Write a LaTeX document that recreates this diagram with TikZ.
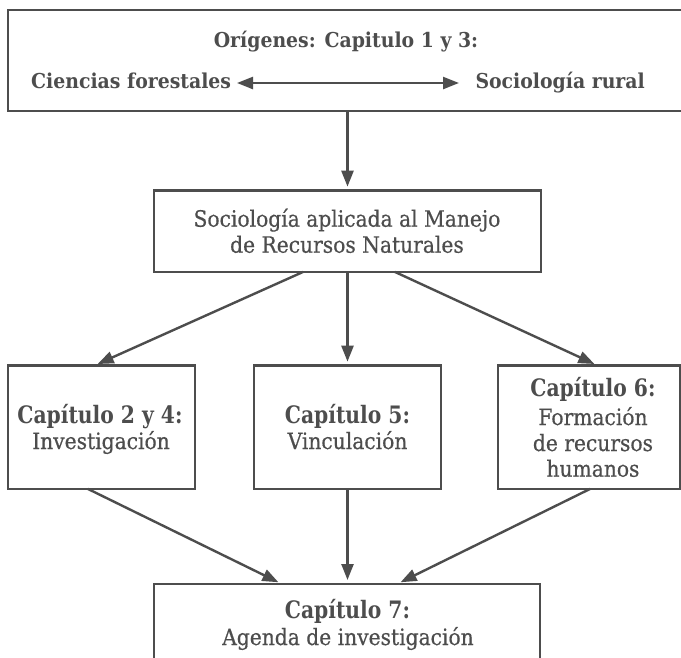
\documentclass[tikz,border=0pt]{standalone}
\usepackage{fontspec}
\usetikzlibrary{arrows.meta,calc}
\newfontfamily\hfont{DejaVu Serif}[FakeStretch=0.845]
\newfontfamily\tfont{DejaVu Serif}[FakeStretch=0.92]
\newfontfamily\rfont{DejaVu Serif}[FakeStretch=0.9,FakeBold=0.5]
\definecolor{ink}{HTML}{4D4D4D}
\begin{document}
\begin{tikzpicture}[x=1pt,y=-1pt,
  box/.style={draw=ink, line width=2.6pt, rectangle, inner sep=0pt, outer sep=0pt},
  conn/.style={draw=ink, line width=2.4pt, -{Triangle[length=16pt,width=12pt]}, shorten >=4pt},
  hd/.style={text=ink, inner sep=0pt, anchor=base, font=\hfont\bfseries\fontsize{24}{26}\selectfont},
  rg/.style={text=ink, inner sep=0pt, anchor=base, font=\rfont\fontsize{22.5}{26}\selectfont},
  tp/.style={text=ink, inner sep=0pt, font=\tfont\bfseries\fontsize{20.5}{21}\selectfont},
]
\useasboundingbox (0,0) rectangle (681,657);
\fill[white] (0,0) rectangle (681,657);
% boxes
\node[box, minimum width=692pt, minimum height=101pt] (top) at (354,60.5) {};
\node[box, minimum width=387pt, minimum height=81.3pt] (mid) at (347.5,231.3) {};
\node[box, minimum width=187pt, minimum height=123.3pt] (inv) at (101.5,427.3) {};
\node[box, minimum width=187pt, minimum height=123.3pt] (vin) at (347.5,427.3) {};
\node[box, minimum width=182pt, minimum height=123.3pt] (frm) at (589,427.3) {};
\node[box, minimum width=386pt, minimum height=140pt] (age) at (347,654) {};
% top texts
\node[tp, anchor=base] (t0) at (346,47) {Orígenes: Capitulo 1 y 3:};
\node[tp, anchor=base west] (t1) at (31,88.3) {Ciencias forestales};
\node[tp, anchor=base east] (t2) at (645,88.3) {Sociología rural};
\coordinate (al) at (237,83);
\coordinate (ar) at (459,83);
\draw[conn, shorten >=0pt, {Triangle[length=16pt,width=12pt]}-{Triangle[length=16pt,width=12pt]}] (al) -- (ar);
% middle
\node[rg] (m1) at (347,226.7) {Sociología aplicada al Manejo};
\node[rg] (m2) at (347,252.7) {de Recursos Naturales};
% three boxes
\node[hd] (i1) at (100,423.3) {Capítulo 2 y 4:};
\node[rg] (i2) at (101,449) {Investigación};
\node[hd] (v1) at (347.5,423.3) {Capítulo 5:};
\node[rg] (v2) at (347.5,449) {Vinculación};
\node[hd] (f1) at (593,396.7) {Capítulo 6:};
\node[rg] (f2) at (593,425) {Formación};
\node[rg] (f3) at (593,451) {de recursos};
\node[rg] (f4) at (593,476.7) {humanos};
% bottom
\node[hd] (a1) at (347.5,618.3) {Capítulo 7:};
\node[rg] (a2) at (348,645) {Agenda de investigación};
% connectors
\draw[conn] (top.south -| mid.north) -- (mid.north);
\draw[conn] ([xshift=-44.5pt]mid.south) -- ([xshift=-7.5pt]inv.north);
\draw[conn] (mid.south) -- (vin.north);
\draw[conn] ([xshift=47.5pt]mid.south) -- ([xshift=9pt]frm.north);
\draw[conn] ([xshift=-13.5pt]inv.south) -- ([xshift=-65pt]age.north);
\draw[conn] (vin.south) -- (vin.south |- age.north);
\draw[conn] ([xshift=1pt]frm.south) -- ([xshift=50pt]age.north);
\end{tikzpicture}
\end{document}
